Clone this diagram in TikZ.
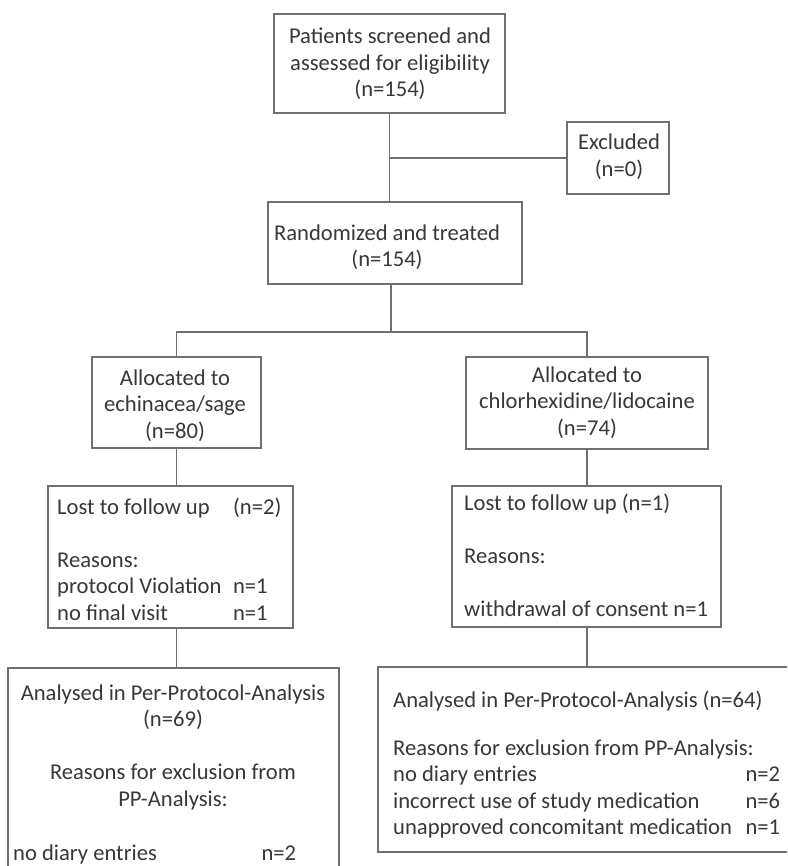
\documentclass[tikz,border=0pt]{standalone}
\usepackage{fontspec}
\setmainfont{Carlito}
\usepackage{array}
\definecolor{linec}{HTML}{707070}
\definecolor{txtc}{HTML}{383838}
\newcommand\flowfont{\fontsize{22.6}{26.5}\selectfont}
\begin{document}
\begin{tikzpicture}[x=1pt,y=-1pt,
  box/.style={draw=linec, line width=1.4pt, inner sep=0pt},
  conn/.style={draw=linec, line width=1.4pt},
  txt/.style={inner sep=0pt, text=txtc, font=\flowfont}]
\useasboundingbox[fill=white] (0,0) rectangle (787,866);
\clip (0,0) rectangle (787,866);
% boxes
\node[box, minimum width=231pt, minimum height=99pt] (top) at (389.5,63.5) {};
\node[box, minimum width=102pt, minimum height=72pt] (excl) at (618,158) {};
\node[box, minimum width=254pt, minimum height=82pt] (rand) at (395,243) {};
\node[box, minimum width=169pt, minimum height=91pt] (lalloc) at (176.5,402.5) {};
\node[box, minimum width=242pt, minimum height=92pt] (ralloc) at (587,403) {};
\node[box, minimum width=245pt, minimum height=142pt] (llost) at (170.5,557) {};
\node[box, minimum width=269pt, minimum height=141pt] (rlost) at (586.5,556.5) {};
\node[box, minimum width=331pt, minimum height=232pt] (lana) at (173.5,784) {};
\node[box, minimum width=442pt, minimum height=185pt] (rana) at (599,759.5) {};
\coordinate (split) at (391,332);
% connectors
\draw[conn] (top.south) -- (top.south |- rand.north);
\draw[conn] (top.south |- excl.west) -- (excl.west);
\draw[conn] (rand.south -| split) -- (split);
\draw[conn] (lalloc.north) -- (lalloc.north |- split) -- (ralloc.north |- split) -- (ralloc.north);
\draw[conn] (lalloc.south) -- (lalloc.south |- llost.north);
\draw[conn] (lalloc.south |- llost.south) -- (lalloc.south |- lana.north);
\draw[conn] (ralloc.south) -- (ralloc.south |- rlost.north);
\draw[conn] (ralloc.south |- rlost.south) -- (ralloc.south |- rana.north);
% texts
\node[txt, anchor=base] (ttop) at (390,44) {\begin{tabular}[t]{@{}c@{}}Patients screened and\\assessed for eligibility\\(n=154)\end{tabular}};
\node[txt, anchor=base] (texcl) at (619,150) {\begin{tabular}[t]{@{}c@{}}Excluded\\(n=0)\end{tabular}};
\node[txt, anchor=base] (trand) at (387,240.5) {\begin{tabular}[t]{@{}c@{}}Randomized and treated\\(n=154)\end{tabular}};
\node[txt, anchor=base] (tlalloc) at (175,385) {\begin{tabular}[t]{@{}c@{}}Allocated to\\echinacea/sage\\(n=80)\end{tabular}};
\node[txt, anchor=base] (tralloc) at (587,382) {\begin{tabular}[t]{@{}c@{}}Allocated to\\chlorhexidine/lidocaine\\(n=74)\end{tabular}};
\node[txt, anchor=base west] (tllost) at (57,514) {\begin{tabular}[t]{@{}p{176pt}@{}l@{}}Lost to follow up & (n=2)\\ & \\ Reasons: & \\ protocol Violation & n=1\\ no final visit & n=1\end{tabular}};
\node[txt, anchor=base west] (trlost) at (464,510) {\begin{tabular}[t]{@{}l@{}}Lost to follow up (n=1)\\ \\ Reasons:\\ \\ withdrawal of consent n=1\end{tabular}};
\node[txt, anchor=base] (tlana) at (173,700) {\begin{tabular}[t]{@{}c@{}}Analysed in Per-Protocol-Analysis\\(n=69)\\ \\ Reasons for exclusion from\\PP-Analysis:\end{tabular}};
\node[txt, anchor=base west] (tlana2) at (13,860) {\begin{tabular*}{283pt}[t]{@{}l@{\extracolsep{\fill}}r@{}}no diary entries & n=2\end{tabular*}};
\node[txt, anchor=base west] (trana) at (393,707) {Analysed in Per-Protocol-Analysis (n=64)};
\node[txt, anchor=base west] (trana2) at (393,755) {\begin{tabular*}{387pt}[t]{@{}l@{\extracolsep{\fill}}r@{}}\multicolumn{2}{@{}l@{}}{Reasons for exclusion from PP-Analysis:}\\ no diary entries & n=2\\ incorrect use of study medication & n=6\\ unapproved concomitant medication & n=1\end{tabular*}};
\end{tikzpicture}
\end{document}
